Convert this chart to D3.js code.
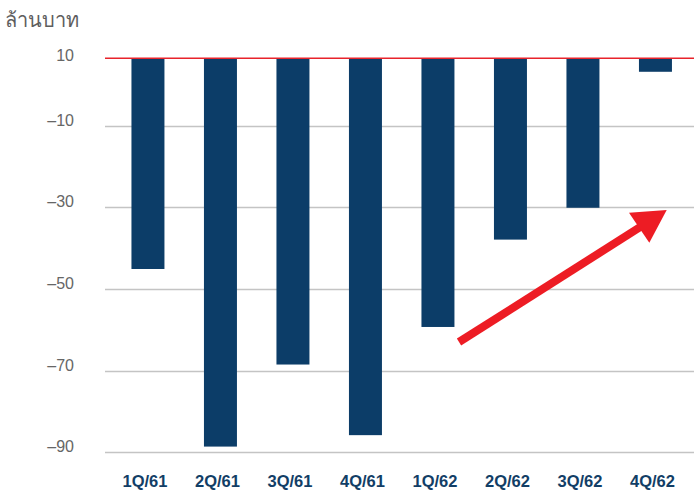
<!DOCTYPE html>
<html>
<head>
<meta charset="utf-8">
<script src="https://cdn.jsdelivr.net/npm/d3@7"></script>
<style>
  body { margin: 0; background: #fff; }
  svg { display: block; font-family: "Liberation Sans", Arial, sans-serif; }
</style>
</head>
<body>
<svg id="chart" width="694" height="492"></svg>
<script>
// Data
const quarters = ["1Q/61", "2Q/61", "3Q/61", "4Q/61", "1Q/62", "2Q/62", "3Q/62", "4Q/62"];
const values = [-45.1, -88.6, -68.5, -85.8, -59.3, -37.9, -30.1, 6.0];
const yTicks = [10, -10, -30, -50, -70, -90];
const unitLabel = "ล้านบาท";

const svg = d3.select("#chart");
const width = 694, height = 492;

// the top step (10 -> -10) is shorter than the rest on the original axis
const y = d3.scaleLinear()
    .domain([10, -10, -90])
    .range([58.3, 125.7, 452.3]);

const x = d3.scaleBand()
    .domain(quarters)
    .range([111.7, 691.7])
    .paddingInner(0.545)
    .paddingOuter(0.2725);

const gridLeft = 105;

// gridlines
svg.append("g")
    .selectAll("line")
    .data(yTicks.slice(1))
    .join("line")
        .attr("x1", gridLeft)
        .attr("x2", width)
        .attr("y1", d => Math.round(y(d)) + 0.5)
        .attr("y2", d => Math.round(y(d)) + 0.5)
        .attr("stroke", "#c4c4c4")
        .attr("stroke-width", 1.3);

// tick labels
svg.append("g")
    .attr("text-anchor", "end")
    .style("font-size", "16px")
    .style("fill", "#666")
    .selectAll("text")
    .data(yTicks)
    .join("text")
        .attr("x", 74)
        .attr("y", d => y(d) + (d === 10 ? 3 : 0))
        .text(d => d < 0 ? "–" + Math.abs(d) : d);

// bars
svg.append("g")
    .selectAll("rect")
    .data(values)
    .join("rect")
        .attr("x", (d, i) => x(quarters[i]))
        .attr("width", x.bandwidth())
        .attr("y", y(10))
        .attr("height", d => y(d) - y(10))
        .attr("fill", "#0c3d68");

// red line at top
svg.append("line")
    .attr("x1", gridLeft)
    .attr("x2", width)
    .attr("y1", y(10))
    .attr("y2", y(10))
    .attr("stroke", "#e8232b")
    .attr("stroke-width", 1.6);

// x labels
svg.append("g")
    .attr("text-anchor", "middle")
    .style("font-size", "16.5px")
    .style("font-weight", "bold")
    .style("fill", "#123e66")
    .selectAll("text")
    .data(quarters)
    .join("text")
        .attr("x", d => x(d) + x.bandwidth() / 2 - 3)
        .attr("y", 487)
        .text(d => d);

// unit label
svg.append("text")
    .attr("x", 5)
    .attr("y", 27)
    .style("font-size", "20px")
    .style("fill", "#5e5e5e")
    .text(unitLabel);

// trend arrow
const tail = [459, 342], tip = [666.7, 210];
const baseA = [629, 212.7], baseB = [649.3, 242.7];
svg.append("line")
    .attr("x1", tail[0]).attr("y1", tail[1])
    .attr("x2", (baseA[0] + baseB[0]) / 2 + 4)
    .attr("y2", (baseA[1] + baseB[1]) / 2 - 2.5)
    .attr("stroke", "#ed1c24")
    .attr("stroke-width", 8);
svg.append("path")
    .attr("d", d3.line()([tip, baseA, baseB]) + "Z")
    .attr("fill", "#ed1c24");
</script>
</body>
</html>
